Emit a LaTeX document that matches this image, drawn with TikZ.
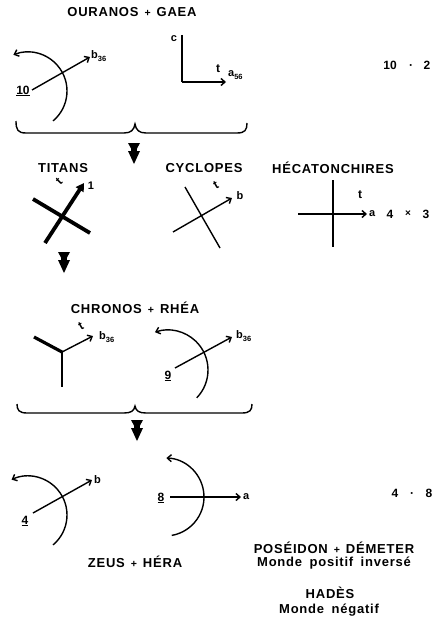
\documentclass[tikz,border=0pt]{standalone}
\usepackage{fontspec}
\setmainfont{Liberation Sans}
\newfontfamily\ttlfont[LetterSpace=6]{Liberation Sans}
\usetikzlibrary{arrows.meta,calc}
\newcommand\pls{\hspace{6pt}{\fontsize{10.5}{10}\selectfont+}\hspace{6pt}}
\newcommand\sbs[1]{\raisebox{-2.5pt}{\fontsize{7.5}{7.5}\selectfont #1}}
\begin{document}
\begin{tikzpicture}[x=1pt,y=1pt,
  ln/.style={line width=1.4pt},
  arr/.style={ln,-{Straight Barb[length=4pt,width=7pt]}},
  thk/.style={line width=3.8pt},
  ttlt/.style={font=\ttlfont\bfseries\fontsize{13}{15}\selectfont, inner sep=0},
  lab/.style={font=\bfseries\fontsize{11}{12}\selectfont, inner sep=0},
  tk/.style={font=\bfseries\fontsize{12}{12}\selectfont, inner sep=0},
  num/.style={font=\bfseries\fontsize{12}{13}\selectfont, inner sep=0},
  dnarrow/.pic={\fill (-6,0) -- (6,0) -- (0,-11) -- cycle;
                \fill (-6,-8) -- (6,-8) -- (0,-21) -- cycle;
                \fill (-3,0) rectangle (3,-10);}
]
\useasboundingbox (0,0) rectangle (435,-623);

% ---------- OURANOS + GAEA
\node[ttlt] (ouranos) at (132,-12) {OURANOS\pls GAEA};

\coordinate (c1) at (28,-91);
\draw[arr] ($(c1)+(-50:39pt)$) arc[start angle=-50,end angle=112,radius=39pt];
\coordinate (l1a) at (32,-90); \coordinate (l1b) at (90,-57);
\draw[arr] (l1a) -- (l1b);
\node[num] (n10) at (23,-91) {\underline{10}};
\node[lab, anchor=west] (b36a) at (91,-56) {b\sbs{36}};

\coordinate (Lt) at (182,-35); \coordinate (Lc) at (182,-82); \coordinate (Lr) at (226,-82);
\draw[ln] (Lt) -- (Lc);
\draw[arr] (Lc) -- (Lr);
\node[lab] (cl) at (174,-39) {c};
\node[tk] (t1) at (218,-69) {t};
\node[lab, anchor=west] (a56) at (228,-75) {a\sbs{56}};

\node[num] (r1a) at (390,-65) {10};
\node[num] (r1b) at (411,-67) {·};
\node[num] (r1c) at (427,-65) {2};

% brace 1
\draw[ln] (16,-121) .. controls (16,-130) and (18,-133) .. (26,-133) -- (124,-133)
  .. controls (131,-133) and (134,-130) .. (135,-124)
  .. controls (136,-130) and (139,-133) .. (146,-133) -- (237,-133)
  .. controls (245,-133) and (247,-130) .. (247,-123);
\pic at (134,-143) {dnarrow};

% ---------- TITANS
\node[ttlt] (titans) at (63,-168) {TITANS};
\coordinate (ta1) at (33,-199); \coordinate (ta2) at (90,-233);
\draw[thk] (ta1) -- (ta2);
\coordinate (tb1) at (45,-243); \coordinate (tb2) at (84,-183);
\draw[thk,-{Triangle[length=8pt,width=9pt]}] (tb1) -- (tb2);
\node[lab] (one) at (91,-186) {1};
\node[tk, rotate=45] (tt) at (59,-181) {t};
\pic at (64,-252) {dnarrow};

% ---------- CYCLOPES
\node[ttlt] (cyc) at (204,-168) {CYCLOPES};
\coordinate (ca1) at (185,-187); \coordinate (ca2) at (220,-248);
\draw[ln] (ca1) -- (ca2);
\coordinate (cb1) at (173,-232); \coordinate (cb2) at (232,-198);
\draw[arr] (cb1) -- (cb2);
\node[lab] (cbl) at (240,-196) {b};
\node[tk, rotate=30] (ct) at (216,-185) {t};

% ---------- HECATONCHIRES
\node[ttlt] (hec) at (333,-168) {HÉCATONCHIRES};
\coordinate (hl) at (298,-214); \coordinate (hr) at (367,-214);
\draw[arr] (hl) -- (hr);
\coordinate (ht) at (333,-180); \coordinate (hb) at (333,-247);
\draw[ln] (ht) -- (hb);
\node[tk] (htt) at (360,-195) {t};
\node[lab, anchor=west] (ha) at (369,-214) {a};
\node[num] (r2a) at (390,-214) {4};
\node[num] (r2b) at (408,-214) {\fontsize{10}{10}\selectfont ×};
\node[num] (r2c) at (426,-214) {3};

% ---------- CHRONOS + RHEA
\node[ttlt] (chr) at (135,-308) {CHRONOS\pls RHÉA};
\coordinate (yc) at (62,-352); \coordinate (yl) at (34,-337);
\coordinate (yb) at (62,-387); \coordinate (yr) at (93,-336);
\draw[line width=3.2pt] (yl) -- (yc);
\draw[ln] (yc) -- (yb);
\draw[arr] (yc) -- (yr);
\node[tk, rotate=30] (yt) at (81,-326) {t};
\node[lab, anchor=west] (yb36) at (99,-337) {b\sbs{36}};

\coordinate (c3) at (168,-370);
\draw[arr] ($(c3)+(-44:40pt)$) arc[start angle=-44,end angle=109,radius=40pt];
\coordinate (ra) at (175,-368); \coordinate (rb) at (232,-337);
\draw[arr] (ra) -- (rb);
\node[num] (n9) at (168,-376) {\underline{9}};
\node[lab, anchor=west] (rb36) at (236,-336) {b\sbs{36}};

% brace 2
\draw[ln] (17,-404) .. controls (17,-410) and (19,-413) .. (27,-413) -- (124,-413)
  .. controls (131,-413) and (134,-411) .. (135,-406)
  .. controls (136,-411) and (139,-413) .. (146,-413) -- (242,-413)
  .. controls (250,-413) and (252,-410) .. (252,-404);
\pic at (137,-420) {dnarrow};

% ---------- ZEUS + HERA
\coordinate (c4) at (28,-515);
\draw[arr] ($(c4)+(-50:39pt)$) arc[start angle=-50,end angle=115,radius=39pt];
\coordinate (za) at (33,-513); \coordinate (zb) at (92,-480);
\draw[arr] (za) -- (zb);
\node[num] (n4) at (25,-521) {\underline{4}};
\node[lab, anchor=west] (zbl) at (94,-480) {b};

\coordinate (c5) at (165,-497);
\draw[arr] ($(c5)+(-80:39pt)$) arc[start angle=-80,end angle=88,radius=39pt];
\coordinate (ha1) at (170,-497); \coordinate (ha2) at (241,-497);
\draw[arr] (ha1) -- (ha2);
\node[num] (n8) at (161,-498) {\underline{8}};
\node[lab, anchor=west] (hea) at (243,-497) {a};

\node[num] (r3a) at (395,-493) {4};
\node[num] (r3b) at (412,-495) {·};
\node[num] (r3c) at (429,-493) {8};

\node[ttlt] (zeus) at (135,-562) {ZEUS\pls HÉRA};
\node[ttlt] (pos) at (334,-548) {POSÉIDON\pls DÉMETER};
\node[ttlt] (mpi) at (334,-563) {Monde\hspace{3pt} positif\hspace{3pt} inversé};
\node[ttlt] (had) at (330,-593) {HADÈS};
\node[ttlt] (mn) at (329,-610) {Monde\hspace{3pt} négatif};
\end{tikzpicture}
\end{document}
